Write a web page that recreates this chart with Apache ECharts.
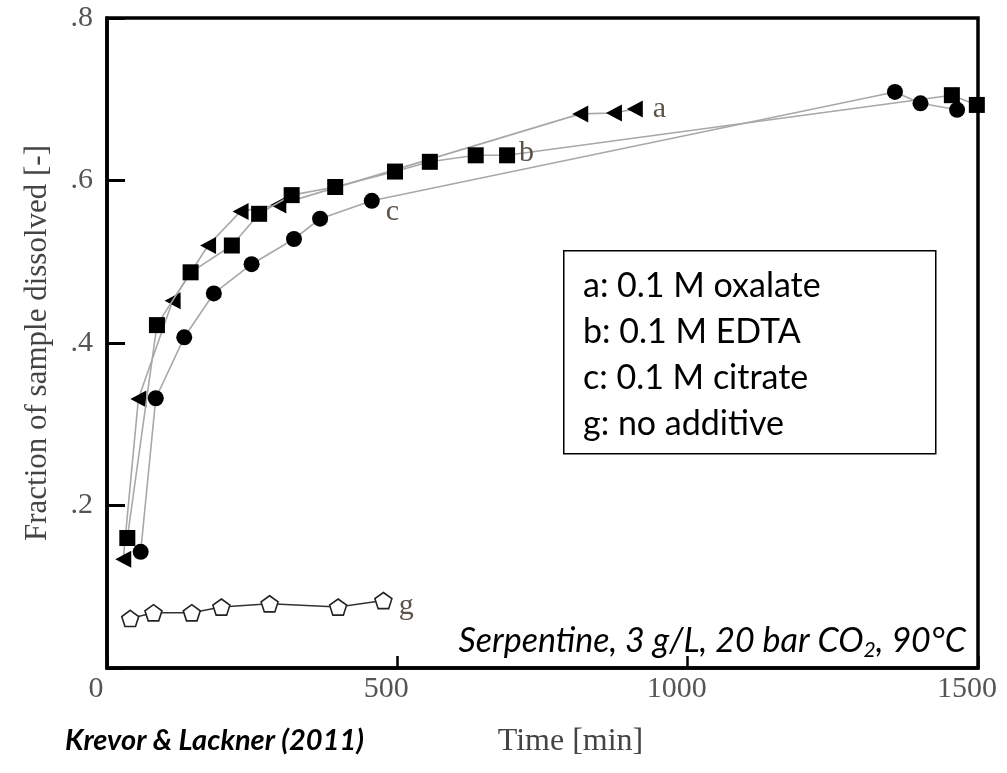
<!DOCTYPE html>
<html><head><meta charset="utf-8">
<script src="https://cdn.jsdelivr.net/npm/echarts@6/dist/echarts.min.js"></script>
<style>html,body{margin:0;padding:0;background:#fff}#c{width:1007px;height:773px}</style>
</head><body><div id="c"></div>
<script>
// Series a: 0.1 M oxalate (triangles)
const timeA = [28, 54, 113, 174, 230, 295, 815, 873, 909];
const fracA = [0.134, 0.331, 0.452, 0.520, 0.562, 0.570, 0.682, 0.683, 0.688];
// Series b: 0.1 M EDTA (squares)
const timeB = [35, 86, 144, 215, 262, 318, 393, 496, 556, 635, 689, 1455, 1498];
const fracB = [0.160, 0.422, 0.487, 0.520, 0.559, 0.582, 0.592, 0.611, 0.623, 0.631, 0.631, 0.705, 0.693];
// Series c: 0.1 M citrate (circles)
const timeC = [58, 84, 133, 184, 249, 322, 367, 456, 1357, 1401, 1464];
const fracC = [0.143, 0.332, 0.407, 0.461, 0.497, 0.528, 0.553, 0.575, 0.709, 0.695, 0.687];
// Series g: no additive (open pentagons)
const timeG = [40, 80, 146, 197, 280, 398, 476];
const fracG = [0.061, 0.068, 0.068, 0.075, 0.079, 0.075, 0.083];

const seriesNames = ['a', 'b', 'c', 'g'];
const labelIndex = [8, 10, 7, 6];
const legendLines = ['a: 0.1 M oxalate', 'b: 0.1 M EDTA', 'c: 0.1 M citrate', 'g: no additive'];
const xTicks = [0, 500, 1000, 1500];
const yTicks = [0.2, 0.4, 0.6, 0.8];

const pentagon = 'path://M0,-10 L9.511,-3.09 L5.878,8.09 L-5.878,8.09 L-9.511,-3.09 Z';

function build(times, fracs, li, name, lblOffset) {
  return times.map((t, i) => {
    const item = { value: [t, fracs[i]] };
    if (i === li) {
      item.label = {
        show: true, position: 'right', distance: 10, formatter: name,
        fontFamily: 'Liberation Serif', fontSize: 30, color: '#5b524a',
        offset: lblOffset
      };
    }
    return item;
  });
}

const chart = echarts.init(document.getElementById('c'), null, { renderer: 'canvas' });
const lineGray = { color: '#a8a8a8', width: 1.6 };

chart.setOption({
  animation: false,
  backgroundColor: '#fff',
  grid: { left: 107, right: 29, top: 18, bottom: 105, show: true, borderColor: '#000', borderWidth: 3.5, backgroundColor: 'transparent' },
  xAxis: {
    type: 'value', min: 0, max: 1500, interval: 500,
    axisLine: { show: true, lineStyle: { color: '#000', width: 3.5 } },
    axisTick: { show: true, inside: true, length: 12, lineStyle: { color: '#000', width: 2.5 } },
    axisLabel: {
      fontFamily: 'Liberation Serif', fontSize: 30, color: '#555', margin: 6, padding: [0, 22, 0, 0],
      formatter: v => (xTicks.includes(v) ? String(v) : '')
    },
    splitLine: { show: false },
    name: 'Time [min]', nameLocation: 'middle', nameGap: 58,
    nameTextStyle: { fontFamily: 'Liberation Serif', fontSize: 32, color: '#444', padding: [0, 0, 0, 56] }
  },
  yAxis: {
    type: 'value', min: 0, max: 0.8, interval: 0.2,
    axisLine: { show: true, lineStyle: { color: '#000', width: 3.5 } },
    axisTick: { show: true, inside: true, length: 18, lineStyle: { color: '#000', width: 3 } },
    axisLabel: {
      fontFamily: 'Liberation Serif', fontSize: 30, color: '#555', margin: 14,
      formatter: v => (v === 0 ? '' : '.' + Math.round(v * 10))
    },
    splitLine: { show: false },
    name: 'Fraction of sample dissolved [-]', nameLocation: 'middle', nameGap: 54,
    nameTextStyle: { fontFamily: 'Liberation Serif', fontSize: 31, color: '#444' }
  },
  series: [
    {
      type: 'line', name: 'a', data: build(timeA, fracA, labelIndex[0], seriesNames[0], [0, 0]),
      symbol: 'triangle', symbolSize: [17, 16], symbolRotate: 90,
      lineStyle: lineGray, itemStyle: { color: '#000' }, z: 3
    },
    {
      type: 'line', name: 'b', data: build(timeB, fracB, labelIndex[1], seriesNames[1], [-6, -2]),
      symbol: 'rect', symbolSize: 16,
      lineStyle: lineGray, itemStyle: { color: '#000' }, z: 4
    },
    {
      type: 'line', name: 'c', data: build(timeC, fracC, labelIndex[2], seriesNames[2], [-4, 11]),
      symbol: 'circle', symbolSize: 16,
      lineStyle: lineGray, itemStyle: { color: '#000' }, z: 5
    },
    {
      type: 'line', name: 'g', data: build(timeG, fracG, labelIndex[3], seriesNames[3], [-4, 6]),
      symbol: pentagon, symbolSize: 17, symbolKeepAspect: true,
      lineStyle: { color: '#333', width: 1.5 },
      itemStyle: { color: '#fff', borderColor: '#222', borderWidth: 1.6 }, z: 3
    }
  ],
  graphic: [
    {
      type: 'rect', left: 563, top: 250, z: 10,
      shape: { width: 372, height: 203 },
      style: { fill: '#fff', stroke: '#000', lineWidth: 1.5 }
    },
    ...legendLines.map((t, i) => ({
      type: 'text', x: 583, y: 286 + i * 46, z: 11,
      style: { text: t, font: '34px Lato', fill: '#000', verticalAlign: 'middle' }
    })),
    {
      type: 'text', x: 966, y: 641, z: 11,
      style: {
        text: '{n|Serpentine, 3 g/L, 20 bar CO}{s|2}{n|, 90°C}',
        align: 'right', verticalAlign: 'middle',
        rich: {
          n: { fontFamily: 'Lato', fontStyle: 'italic', fontSize: 34, color: '#000' },
          s: { fontFamily: 'Lato', fontStyle: 'italic', fontSize: 21, color: '#000', padding: [18, 0, 0, 0] }
        }
      }
    },
    {
      type: 'text', x: 65, y: 741, z: 11,
      style: { text: 'Krevor & Lackner (2011)', font: 'italic bold 29px Lato', fill: '#000', verticalAlign: 'middle' }
    }
  ]
});
</script></body></html>
